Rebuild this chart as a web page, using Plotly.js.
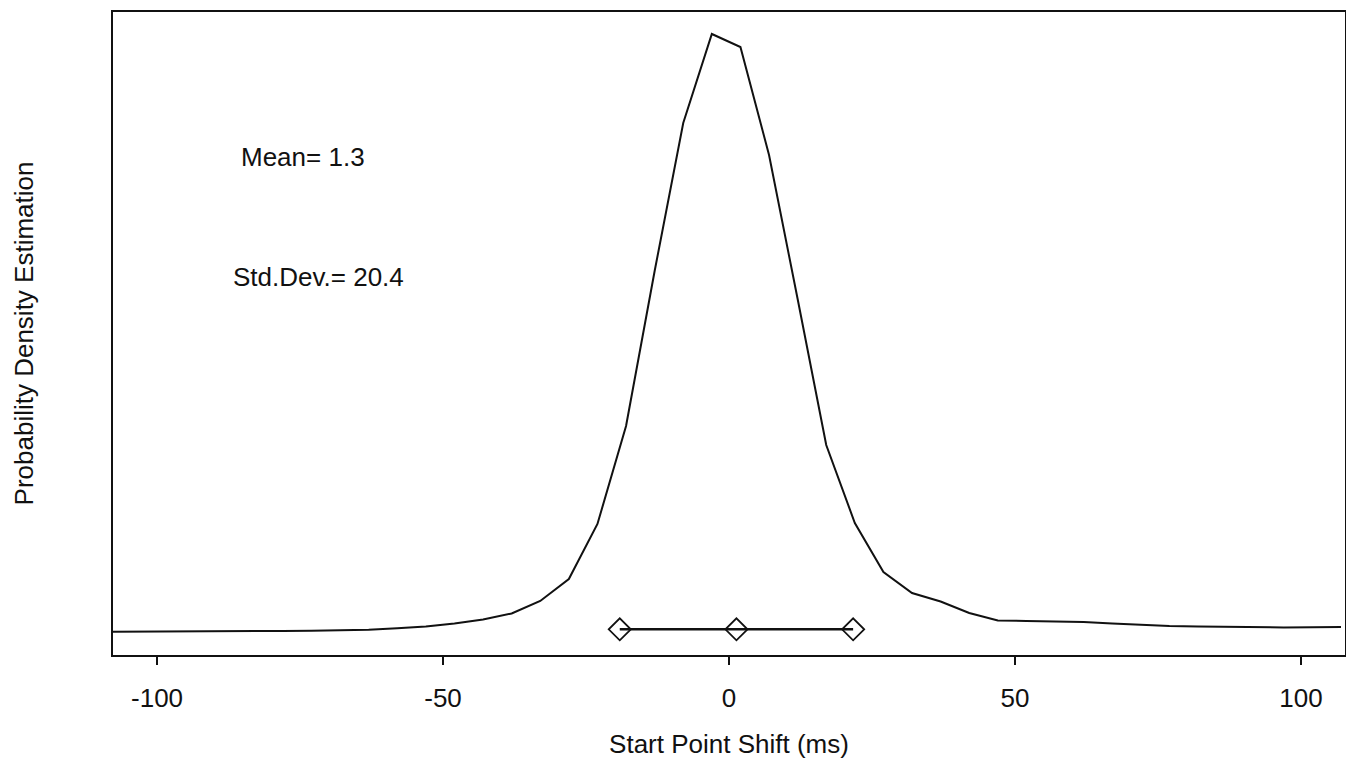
<!DOCTYPE html>
<html>
<head>
<meta charset="utf-8">
<script src="https://cdn.plot.ly/plotly-3.0.1.min.js"></script>
<style>html,body{margin:0;padding:0;background:#fff;}#chart{width:1346px;height:764px;}</style>
</head>
<body>
<div id="chart"></div>
<script>
// Start point shift (ms) grid of the density estimate
const shiftMs = [-108,-103,-98,-93,-88,-83,-78,-73,-68,-63,-58,-53,-48,-43,-38,-33,-28,-23,-18,-13,-8,-3,2,7,12,17,22,27,32,37,42,47,52,57,62,67,72,77,82,87,92,97,102,107];
// Estimated probability density
const density = [0.000065,0.000065,0.00007,0.000075,0.00008,0.00009,0.0001,0.00011,0.000125,0.000165,0.000235,0.000325,0.000475,0.000675,0.000975,0.0016,0.0027,0.00545,0.01035,0.0181,0.0255,0.02995,0.0293,0.0239,0.0167,0.0094,0.0055,0.00305,0.002,0.001575,0.001,0.000625,0.0006,0.000575,0.00055,0.000475,0.0004,0.00035,0.000325,0.0003,0.000285,0.000275,0.000285,0.0003];
// Mean - SD, Mean, Mean + SD
const statX = [-19.1, 1.3, 21.7];
const statY = [0.000185, 0.000185, 0.000185];
const meanLabel = "Mean= 1.3";
const sdLabel = "Std.Dev.= 20.4";
const tickVals = [-100,-50,0,50,100];
const tickText = ["-100","-50","0","50","100"];

const FONT = "Liberation Sans, Arial, Helvetica, sans-serif";

const traces = [
  {x: shiftMs, y: density, type: "scatter", mode: "lines",
   line: {color: "#111", width: 2}, hoverinfo: "x+y", showlegend: false},
  {x: statX, y: statY, type: "scatter", mode: "lines+markers",
   line: {color: "#111", width: 2.5},
   marker: {symbol: "diamond-open", size: 17, color: "#111", line: {width: 1.8, color: "#111"}},
   showlegend: false}
];

const layout = {
  width: 1346, height: 764,
  margin: {l: 113, r: 1, t: 12, b: 109},
  paper_bgcolor: "#fff", plot_bgcolor: "#fff",
  font: {family: FONT, size: 26, color: "#111"},
  showlegend: false,
  xaxis: {
    range: [-107.7, 107.7], tickvals: tickVals, ticktext: tickText,
    ticks: "outside", ticklen: 8, tickwidth: 1.5, tickcolor: "#111",
    ticklabelstandoff: 11,
    showgrid: false, zeroline: false,
    showline: true, mirror: true, linecolor: "#111", linewidth: 1.8,
    tickfont: {family: FONT, size: 26, color: "#111"},
    title: {text: "Start Point Shift (ms)", font: {family: FONT, size: 26, color: "#111"}, standoff: 23}
  },
  yaxis: {
    range: [-0.0011, 0.03105], showticklabels: false, ticks: "",
    showgrid: false, zeroline: false,
    showline: true, mirror: true, linecolor: "#111", linewidth: 1.8,
    title: {text: "Probability Density Estimation", font: {family: FONT, size: 26, color: "#111"}, standoff: 70}
  },
  annotations: [
    {xref: "x", yref: "y", x: -85.7, y: 0.0238, text: meanLabel, showarrow: false,
     xanchor: "left", yanchor: "middle", font: {family: FONT, size: 26, color: "#111"}},
    {xref: "x", yref: "y", x: -87.1, y: 0.0178, text: sdLabel, showarrow: false,
     xanchor: "left", yanchor: "middle", font: {family: FONT, size: 26, color: "#111"}}
  ]
};

Plotly.newPlot("chart", traces, layout, {displayModeBar: false, staticPlot: true});
</script>
</body>
</html>
